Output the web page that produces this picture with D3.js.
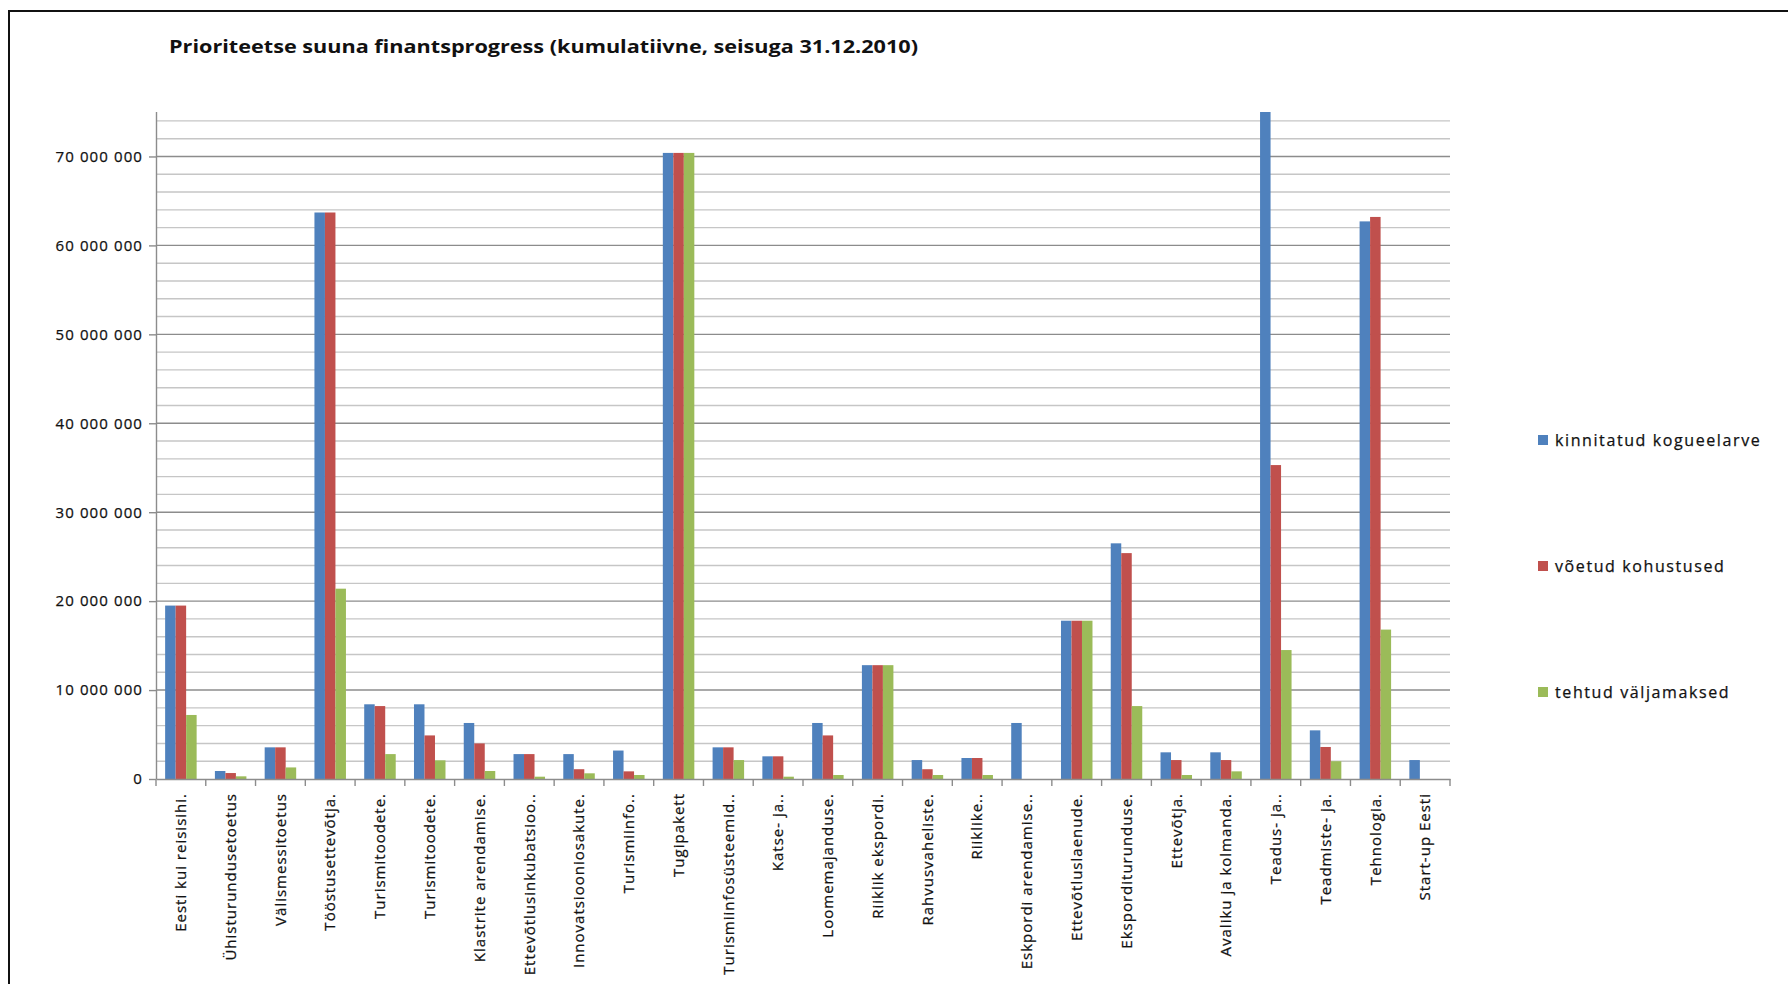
<!DOCTYPE html>
<html>
<head>
<meta charset="utf-8">
<script src="https://cdn.jsdelivr.net/npm/d3@7"></script>
<style>
  html, body { margin: 0; padding: 0; background: #fff; }
  svg { display: block; font-family: "Open Sans", sans-serif; }
  .tick text, .legend-text { fill: #111; stroke: #111; stroke-width: 0.25px; }
</style>
</head>
<body>
<script>
var categories = [
  'Eesti kui reisisihi.', 'Ühisturundusetoetus', 'Välismessitoetus', 'Tööstusettevõtja.',
  'Turismitoodete.', 'Turismitoodete.', 'Klastrite arendamise.', 'Ettevõtlusinkubatsioo..',
  'Innovatsiooniosakute.', 'Turismiinfo..', 'Tugipakett', 'Turismiinfosüsteemid..',
  'Katse- ja..', 'Loomemajanduse.', 'Riiklik ekspordi.', 'Rahvusvaheliste.',
  'Riiklike..', 'Eskpordi arendamise..', 'Ettevõtluslaenude.', 'Eksporditurunduse.',
  'Ettevõtja.', 'Avaliku ja kolmanda.', 'Teadus- ja..', 'Teadmiste- ja.',
  'Tehnologia.', 'Start-up Eesti'
];

var seriesNames = ['kinnitatud kogueelarve', 'võetud kohustused', 'tehtud väljamaksed'];
var seriesColors = ['#4f81bd', '#c0504d', '#9bbb59'];

var kinnitatud = [
  19500000, 900000, 3560000, 63700000, 8400000, 8400000, 6300000, 2800000,
  2800000, 3200000, 70400000, 3560000, 2550000, 6300000, 12800000, 2130000,
  2360000, 6300000, 17800000, 26500000, 3000000, 3000000, 75000000, 5470000,
  62700000, 2130000
];
var voetud = [
  19500000, 670000, 3560000, 63700000, 8200000, 4900000, 4000000, 2800000,
  1100000, 860000, 70400000, 3560000, 2550000, 4900000, 12800000, 1100000,
  2360000, 0, 17800000, 25400000, 2130000, 2130000, 35300000, 3600000,
  63200000, 0
];
var tehtud = [
  7200000, 300000, 1300000, 21400000, 2800000, 2100000, 900000, 260000,
  640000, 450000, 70400000, 2130000, 260000, 450000, 12800000, 450000,
  450000, 0, 17800000, 8200000, 450000, 860000, 14500000, 2000000,
  16800000, 0
];

var yMajorTicks = [0, 10000000, 20000000, 30000000, 40000000, 50000000, 60000000, 70000000];

var width = 1788;
var height = 984;
var plot = {left: 156, right: 1450, top: 112, bottom: 779};

var svg = d3.select('body').append('svg')
  .attr('width', width)
  .attr('height', height);

// outer chart frame (right/bottom edges fall outside the picture)
svg.append('path')
  .attr('d', 'M9,' + (height + 10) + 'V11H' + (width + 10))
  .attr('fill', 'none')
  .attr('stroke', '#111')
  .attr('stroke-width', 2);

svg.append('text')
  .attr('x', 169)
  .attr('y', 53)
  .attr('font-size', 18)
  .attr('font-weight', 'bold')
  .attr('fill', '#111')
  .attr('textLength', 749)
  .attr('lengthAdjust', 'spacingAndGlyphs')
  .text('Prioriteetse suuna finantsprogress (kumulatiivne, seisuga 31.12.2010)');

var y = d3.scaleLinear()
  .domain([0, 75000000])
  .range([plot.bottom, plot.top])
  .clamp(true);

var x0 = d3.scaleBand()
  .domain(d3.range(categories.length))
  .range([plot.left, plot.right])
  .paddingInner(0.367)
  .paddingOuter(0.1835);

var x1 = d3.scaleBand()
  .domain(d3.range(seriesNames.length))
  .range([0, x0.bandwidth()]);

var fmt = d3.formatLocale({decimal: ',', thousands: ' ', grouping: [3], currency: ['', '']}).format(',d');

// gridlines
var minor = d3.range(2000000, 75000000, 2000000).filter(function(v) { return v % 10000000 !== 0; });
var major = yMajorTicks.filter(function(v) { return v > 0; });

svg.append('g').selectAll('line').data(minor).enter().append('line')
  .attr('x1', plot.left).attr('x2', plot.right)
  .attr('y1', y).attr('y2', y)
  .attr('stroke', '#c6c6c6')
  .attr('stroke-width', 1.4);

svg.append('g').selectAll('line').data(major).enter().append('line')
  .attr('x1', plot.left).attr('x2', plot.right)
  .attr('y1', y).attr('y2', y)
  .attr('stroke', '#8c8c8c')
  .attr('stroke-width', 1.4);

// bars
var rows = categories.map(function(c, i) {
  return [kinnitatud[i], voetud[i], tehtud[i]];
});

var groups = svg.append('g').selectAll('g').data(rows).enter().append('g')
  .attr('transform', function(d, i) { return 'translate(' + x0(i) + ',0)'; });

groups.selectAll('rect').data(function(d) { return d; }).enter().append('rect')
  .attr('x', function(d, j) { return x1(j); })
  .attr('y', function(d) { return y(d); })
  .attr('width', x1.bandwidth())
  .attr('height', function(d) { return plot.bottom - y(d); })
  .attr('fill', function(d, j) { return seriesColors[j]; });

// y axis
var yAxis = svg.append('g')
  .attr('transform', 'translate(' + plot.left + ',0)')
  .call(d3.axisLeft(y).tickValues(yMajorTicks).tickSize(7).tickSizeOuter(0).tickPadding(6).tickFormat(fmt));

yAxis.select('.domain').attr('d', 'M0.5,' + plot.top + 'V' + plot.bottom);
yAxis.selectAll('.domain, line').attr('stroke', '#8c8c8c').attr('stroke-width', 1.4);
yAxis.selectAll('text')
  .attr('font-size', 15)
  .attr('letter-spacing', '1.1px')
  .attr('font-family', '"Open Sans", sans-serif');

// x axis
var xAxis = svg.append('g')
  .attr('transform', 'translate(0,' + plot.bottom + ')')
  .call(d3.axisBottom(x0).tickSize(0).tickSizeOuter(0).tickFormat(function(i) { return categories[i]; }));

xAxis.select('.domain').attr('stroke', '#8c8c8c').attr('stroke-width', 1.4);
xAxis.selectAll('text')
  .attr('font-size', 15)
  .attr('letter-spacing', '1px')
  .attr('font-family', '"Open Sans", sans-serif')
  .attr('transform', 'rotate(-90)')
  .attr('text-anchor', 'end')
  .attr('x', -14)
  .attr('y', 0)
  .attr('dy', '0.35em');

var step = x0.step();
svg.append('g').selectAll('line').data(d3.range(categories.length + 1)).enter().append('line')
  .attr('x1', function(i) { return plot.left + i * step; })
  .attr('x2', function(i) { return plot.left + i * step; })
  .attr('y1', plot.bottom)
  .attr('y2', plot.bottom + 7)
  .attr('stroke', '#8c8c8c')
  .attr('stroke-width', 1.4);

// legend
var legendY = [440, 566, 692];
var legend = svg.append('g').selectAll('g').data(seriesNames).enter().append('g')
  .attr('transform', function(d, i) { return 'translate(1538,' + legendY[i] + ')'; });

legend.append('rect')
  .attr('x', 0).attr('y', -5)
  .attr('width', 10).attr('height', 10)
  .attr('fill', function(d, i) { return seriesColors[i]; });

legend.append('text')
  .attr('class', 'legend-text')
  .attr('x', 17)
  .attr('dy', '0.35em')
  .attr('font-size', 16)
  .attr('letter-spacing', '1.6px')
  .text(function(d) { return d; });
</script>
</body>
</html>
